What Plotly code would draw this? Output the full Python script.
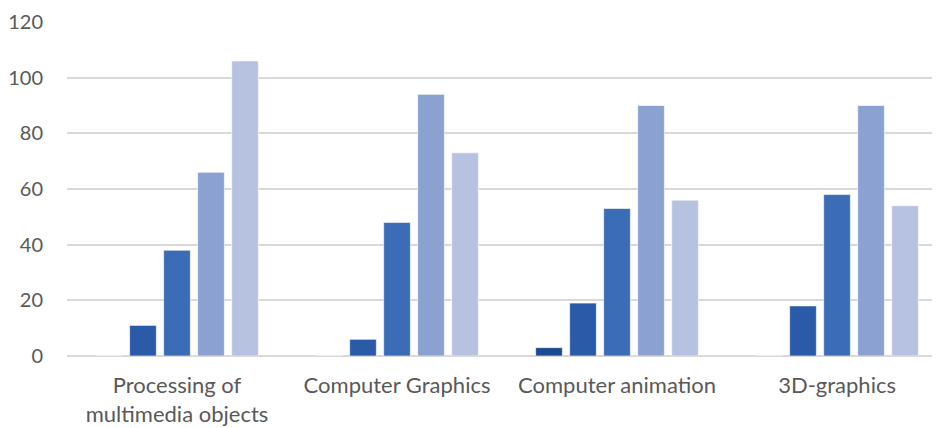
import plotly.graph_objects as go

categories = ["Processing of<br>multimedia objects", "Computer Graphics", "Computer animation", "3D-graphics"]
series_names = ["Series 1", "Series 2", "Series 3", "Series 4", "Series 5"]
s1 = [0, 0, 3, 0]
s2 = [11, 6, 19, 18]
s3 = [38, 48, 53, 58]
s4 = [66, 94, 90, 90]
s5 = [106, 73, 56, 54]
series_values = [s1, s2, s3, s4, s5]
colors = ["#1A4A8F", "#2B5BA8", "#3A6DB5", "#8AA1D1", "#B6C2E0"]
y_ticks = [0, 20, 40, 60, 80, 100, 120]

fig = go.Figure()
for name, vals, c in zip(series_names, series_values, colors):
    fig.add_trace(go.Bar(x=categories, y=vals, name=name,
                         marker=dict(color=c, line=dict(color="rgba(255,255,255,0.6)", width=1))))

# the page body has an 8px default margin, so the figure is shifted by 8px
fig.update_layout(
    width=932, height=420,
    margin=dict(l=59, r=0, t=14, b=72),
    barmode="group", bargap=0.227, bargroupgap=0.215,
    plot_bgcolor="white", paper_bgcolor="white",
    showlegend=False,
    font=dict(family="Lato, Open Sans, sans-serif", size=20, color="#595959"),
)
fig.update_yaxes(range=[0, 120], tickvals=y_ticks, showgrid=True, gridcolor="#D9D9D9", gridwidth=1.5,
                 zeroline=True, zerolinecolor="#D9D9D9", zerolinewidth=1.5, showline=False,
                 ticklabelstandoff=23, automargin=False, tickfont=dict(size=20, color="#595959"))
fig.update_xaxes(range=[-0.5, 3.468], showline=False, automargin=False, ticklabelstandoff=14,
                 tickfont=dict(size=22, color="#595959"))
fig.write_html("out.html")
